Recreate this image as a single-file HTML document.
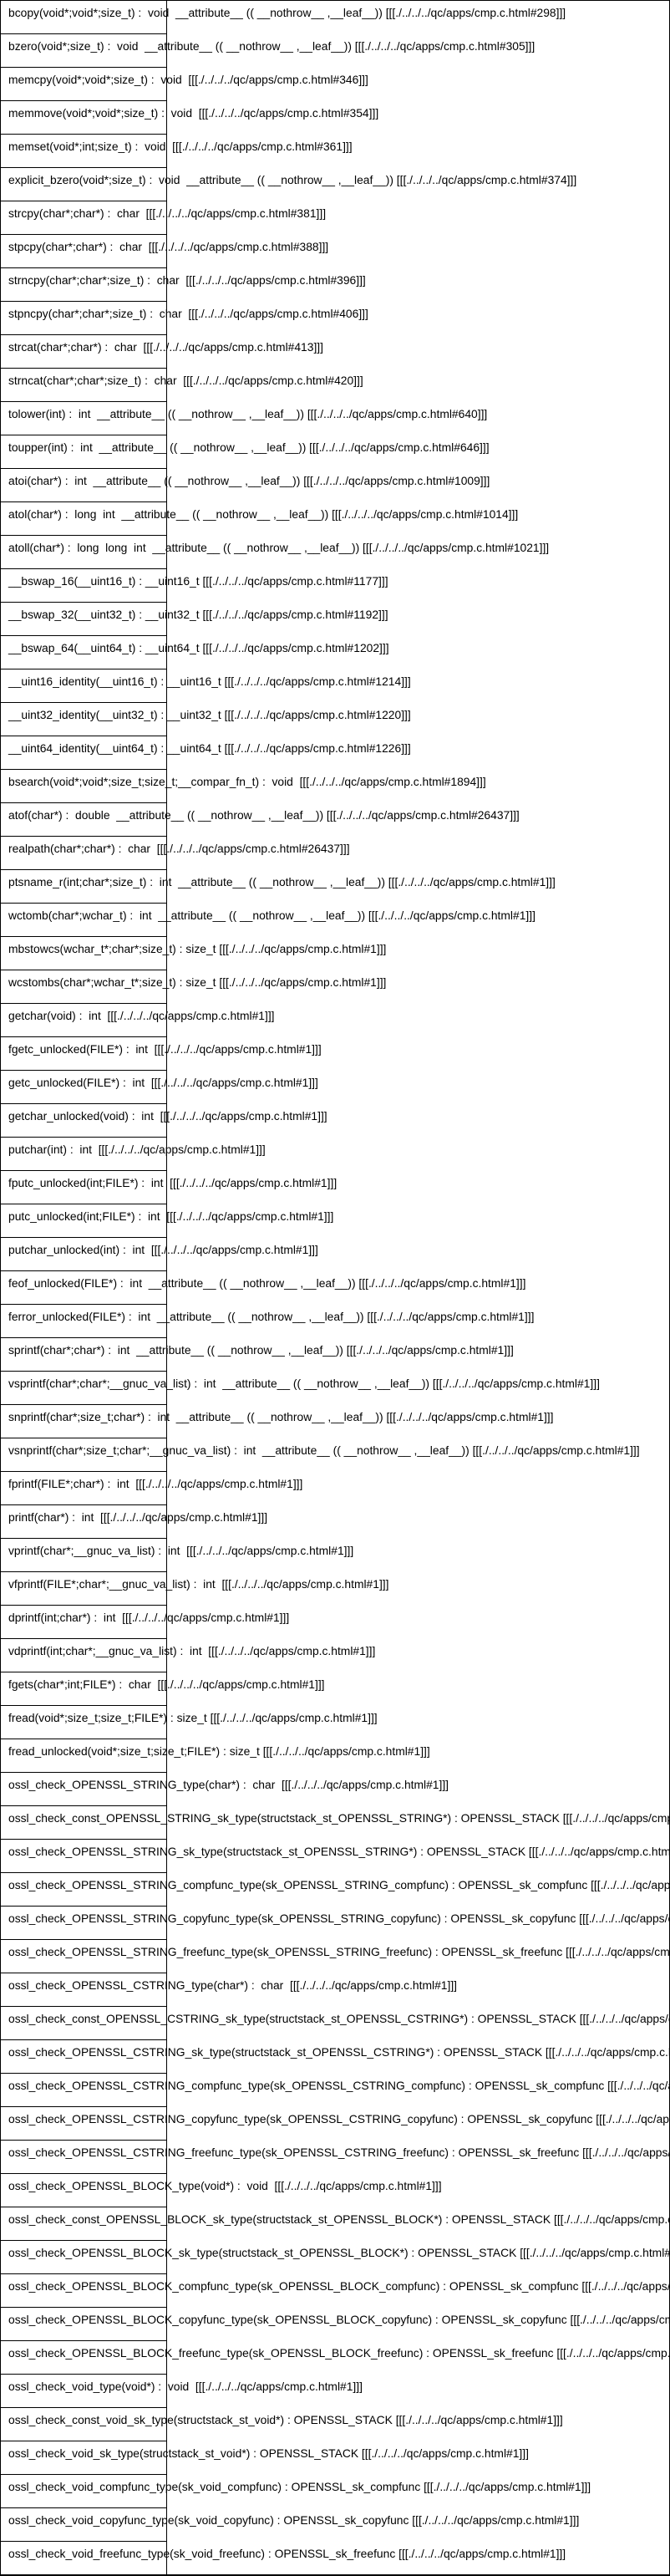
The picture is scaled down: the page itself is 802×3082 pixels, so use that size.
<!DOCTYPE html>
<html><head><meta charset="utf-8">
<style>
html,body{margin:0;padding:0;background:#fff;}
body{width:802px;height:3082px;position:relative;overflow:hidden;font-family:"Liberation Sans",sans-serif;font-size:13.85px;color:#000;}
#outer{position:absolute;left:0;top:0;width:800px;height:3079px;border:1px solid #000;border-bottom:2px solid #000;overflow:hidden;}
.cell{position:absolute;left:-1px;width:200px;height:41px;border:1px solid #000;box-sizing:border-box;}
.t{position:absolute;left:9px;white-space:pre;line-height:16px;}
</style></head><body>
<div id="outer"></div>
<script>
var rows=[
"bcopy(void*;void*;size_t) :  void  __attribute__ (( __nothrow__ ,__leaf__)) [[[./../../../qc/apps/cmp.c.html#298]]]",
"bzero(void*;size_t) :  void  __attribute__ (( __nothrow__ ,__leaf__)) [[[./../../../qc/apps/cmp.c.html#305]]]",
"memcpy(void*;void*;size_t) :  void  [[[./../../../qc/apps/cmp.c.html#346]]]",
"memmove(void*;void*;size_t) :  void  [[[./../../../qc/apps/cmp.c.html#354]]]",
"memset(void*;int;size_t) :  void  [[[./../../../qc/apps/cmp.c.html#361]]]",
"explicit_bzero(void*;size_t) :  void  __attribute__ (( __nothrow__ ,__leaf__)) [[[./../../../qc/apps/cmp.c.html#374]]]",
"strcpy(char*;char*) :  char  [[[./../../../qc/apps/cmp.c.html#381]]]",
"stpcpy(char*;char*) :  char  [[[./../../../qc/apps/cmp.c.html#388]]]",
"strncpy(char*;char*;size_t) :  char  [[[./../../../qc/apps/cmp.c.html#396]]]",
"stpncpy(char*;char*;size_t) :  char  [[[./../../../qc/apps/cmp.c.html#406]]]",
"strcat(char*;char*) :  char  [[[./../../../qc/apps/cmp.c.html#413]]]",
"strncat(char*;char*;size_t) :  char  [[[./../../../qc/apps/cmp.c.html#420]]]",
"tolower(int) :  int  __attribute__ (( __nothrow__ ,__leaf__)) [[[./../../../qc/apps/cmp.c.html#640]]]",
"toupper(int) :  int  __attribute__ (( __nothrow__ ,__leaf__)) [[[./../../../qc/apps/cmp.c.html#646]]]",
"atoi(char*) :  int  __attribute__ (( __nothrow__ ,__leaf__)) [[[./../../../qc/apps/cmp.c.html#1009]]]",
"atol(char*) :  long  int  __attribute__ (( __nothrow__ ,__leaf__)) [[[./../../../qc/apps/cmp.c.html#1014]]]",
"atoll(char*) :  long  long  int  __attribute__ (( __nothrow__ ,__leaf__)) [[[./../../../qc/apps/cmp.c.html#1021]]]",
"__bswap_16(__uint16_t) : __uint16_t [[[./../../../qc/apps/cmp.c.html#1177]]]",
"__bswap_32(__uint32_t) : __uint32_t [[[./../../../qc/apps/cmp.c.html#1192]]]",
"__bswap_64(__uint64_t) : __uint64_t [[[./../../../qc/apps/cmp.c.html#1202]]]",
"__uint16_identity(__uint16_t) : __uint16_t [[[./../../../qc/apps/cmp.c.html#1214]]]",
"__uint32_identity(__uint32_t) : __uint32_t [[[./../../../qc/apps/cmp.c.html#1220]]]",
"__uint64_identity(__uint64_t) : __uint64_t [[[./../../../qc/apps/cmp.c.html#1226]]]",
"bsearch(void*;void*;size_t;size_t;__compar_fn_t) :  void  [[[./../../../qc/apps/cmp.c.html#1894]]]",
"atof(char*) :  double  __attribute__ (( __nothrow__ ,__leaf__)) [[[./../../../qc/apps/cmp.c.html#26437]]]",
"realpath(char*;char*) :  char  [[[./../../../qc/apps/cmp.c.html#26437]]]",
"ptsname_r(int;char*;size_t) :  int  __attribute__ (( __nothrow__ ,__leaf__)) [[[./../../../qc/apps/cmp.c.html#1]]]",
"wctomb(char*;wchar_t) :  int  __attribute__ (( __nothrow__ ,__leaf__)) [[[./../../../qc/apps/cmp.c.html#1]]]",
"mbstowcs(wchar_t*;char*;size_t) : size_t [[[./../../../qc/apps/cmp.c.html#1]]]",
"wcstombs(char*;wchar_t*;size_t) : size_t [[[./../../../qc/apps/cmp.c.html#1]]]",
"getchar(void) :  int  [[[./../../../qc/apps/cmp.c.html#1]]]",
"fgetc_unlocked(FILE*) :  int  [[[./../../../qc/apps/cmp.c.html#1]]]",
"getc_unlocked(FILE*) :  int  [[[./../../../qc/apps/cmp.c.html#1]]]",
"getchar_unlocked(void) :  int  [[[./../../../qc/apps/cmp.c.html#1]]]",
"putchar(int) :  int  [[[./../../../qc/apps/cmp.c.html#1]]]",
"fputc_unlocked(int;FILE*) :  int  [[[./../../../qc/apps/cmp.c.html#1]]]",
"putc_unlocked(int;FILE*) :  int  [[[./../../../qc/apps/cmp.c.html#1]]]",
"putchar_unlocked(int) :  int  [[[./../../../qc/apps/cmp.c.html#1]]]",
"feof_unlocked(FILE*) :  int  __attribute__ (( __nothrow__ ,__leaf__)) [[[./../../../qc/apps/cmp.c.html#1]]]",
"ferror_unlocked(FILE*) :  int  __attribute__ (( __nothrow__ ,__leaf__)) [[[./../../../qc/apps/cmp.c.html#1]]]",
"sprintf(char*;char*) :  int  __attribute__ (( __nothrow__ ,__leaf__)) [[[./../../../qc/apps/cmp.c.html#1]]]",
"vsprintf(char*;char*;__gnuc_va_list) :  int  __attribute__ (( __nothrow__ ,__leaf__)) [[[./../../../qc/apps/cmp.c.html#1]]]",
"snprintf(char*;size_t;char*) :  int  __attribute__ (( __nothrow__ ,__leaf__)) [[[./../../../qc/apps/cmp.c.html#1]]]",
"vsnprintf(char*;size_t;char*;__gnuc_va_list) :  int  __attribute__ (( __nothrow__ ,__leaf__)) [[[./../../../qc/apps/cmp.c.html#1]]]",
"fprintf(FILE*;char*) :  int  [[[./../../../qc/apps/cmp.c.html#1]]]",
"printf(char*) :  int  [[[./../../../qc/apps/cmp.c.html#1]]]",
"vprintf(char*;__gnuc_va_list) :  int  [[[./../../../qc/apps/cmp.c.html#1]]]",
"vfprintf(FILE*;char*;__gnuc_va_list) :  int  [[[./../../../qc/apps/cmp.c.html#1]]]",
"dprintf(int;char*) :  int  [[[./../../../qc/apps/cmp.c.html#1]]]",
"vdprintf(int;char*;__gnuc_va_list) :  int  [[[./../../../qc/apps/cmp.c.html#1]]]",
"fgets(char*;int;FILE*) :  char  [[[./../../../qc/apps/cmp.c.html#1]]]",
"fread(void*;size_t;size_t;FILE*) : size_t [[[./../../../qc/apps/cmp.c.html#1]]]",
"fread_unlocked(void*;size_t;size_t;FILE*) : size_t [[[./../../../qc/apps/cmp.c.html#1]]]",
"ossl_check_OPENSSL_STRING_type(char*) :  char  [[[./../../../qc/apps/cmp.c.html#1]]]",
"ossl_check_const_OPENSSL_STRING_sk_type(structstack_st_OPENSSL_STRING*) : OPENSSL_STACK [[[./../../../qc/apps/cmp.c.html#1]]]",
"ossl_check_OPENSSL_STRING_sk_type(structstack_st_OPENSSL_STRING*) : OPENSSL_STACK [[[./../../../qc/apps/cmp.c.html#1]]]",
"ossl_check_OPENSSL_STRING_compfunc_type(sk_OPENSSL_STRING_compfunc) : OPENSSL_sk_compfunc [[[./../../../qc/apps/cmp.c.html#1]]]",
"ossl_check_OPENSSL_STRING_copyfunc_type(sk_OPENSSL_STRING_copyfunc) : OPENSSL_sk_copyfunc [[[./../../../qc/apps/cmp.c.html#1]]]",
"ossl_check_OPENSSL_STRING_freefunc_type(sk_OPENSSL_STRING_freefunc) : OPENSSL_sk_freefunc [[[./../../../qc/apps/cmp.c.html#1]]]",
"ossl_check_OPENSSL_CSTRING_type(char*) :  char  [[[./../../../qc/apps/cmp.c.html#1]]]",
"ossl_check_const_OPENSSL_CSTRING_sk_type(structstack_st_OPENSSL_CSTRING*) : OPENSSL_STACK [[[./../../../qc/apps/cmp.c.html#1]]]",
"ossl_check_OPENSSL_CSTRING_sk_type(structstack_st_OPENSSL_CSTRING*) : OPENSSL_STACK [[[./../../../qc/apps/cmp.c.html#1]]]",
"ossl_check_OPENSSL_CSTRING_compfunc_type(sk_OPENSSL_CSTRING_compfunc) : OPENSSL_sk_compfunc [[[./../../../qc/apps/cmp.c.html#1]]]",
"ossl_check_OPENSSL_CSTRING_copyfunc_type(sk_OPENSSL_CSTRING_copyfunc) : OPENSSL_sk_copyfunc [[[./../../../qc/apps/cmp.c.html#1]]]",
"ossl_check_OPENSSL_CSTRING_freefunc_type(sk_OPENSSL_CSTRING_freefunc) : OPENSSL_sk_freefunc [[[./../../../qc/apps/cmp.c.html#1]]]",
"ossl_check_OPENSSL_BLOCK_type(void*) :  void  [[[./../../../qc/apps/cmp.c.html#1]]]",
"ossl_check_const_OPENSSL_BLOCK_sk_type(structstack_st_OPENSSL_BLOCK*) : OPENSSL_STACK [[[./../../../qc/apps/cmp.c.html#1]]]",
"ossl_check_OPENSSL_BLOCK_sk_type(structstack_st_OPENSSL_BLOCK*) : OPENSSL_STACK [[[./../../../qc/apps/cmp.c.html#1]]]",
"ossl_check_OPENSSL_BLOCK_compfunc_type(sk_OPENSSL_BLOCK_compfunc) : OPENSSL_sk_compfunc [[[./../../../qc/apps/cmp.c.html#1]]]",
"ossl_check_OPENSSL_BLOCK_copyfunc_type(sk_OPENSSL_BLOCK_copyfunc) : OPENSSL_sk_copyfunc [[[./../../../qc/apps/cmp.c.html#1]]]",
"ossl_check_OPENSSL_BLOCK_freefunc_type(sk_OPENSSL_BLOCK_freefunc) : OPENSSL_sk_freefunc [[[./../../../qc/apps/cmp.c.html#1]]]",
"ossl_check_void_type(void*) :  void  [[[./../../../qc/apps/cmp.c.html#1]]]",
"ossl_check_const_void_sk_type(structstack_st_void*) : OPENSSL_STACK [[[./../../../qc/apps/cmp.c.html#1]]]",
"ossl_check_void_sk_type(structstack_st_void*) : OPENSSL_STACK [[[./../../../qc/apps/cmp.c.html#1]]]",
"ossl_check_void_compfunc_type(sk_void_compfunc) : OPENSSL_sk_compfunc [[[./../../../qc/apps/cmp.c.html#1]]]",
"ossl_check_void_copyfunc_type(sk_void_copyfunc) : OPENSSL_sk_copyfunc [[[./../../../qc/apps/cmp.c.html#1]]]",
"ossl_check_void_freefunc_type(sk_void_freefunc) : OPENSSL_sk_freefunc [[[./../../../qc/apps/cmp.c.html#1]]]"
];
var o=document.getElementById('outer'),h='';
for(var i=0;i<rows.length;i++){
  var y=i*40-1;
  h+='<div class="cell" style="top:'+y+'px"></div>';
  var s=rows[i].replace(/&/g,'&amp;').replace(/</g,'&lt;');
  h+='<div class="t" style="top:'+(i*40+6)+'px">'+s+'</div>';
}
o.innerHTML=h;
</script>
</body></html>
